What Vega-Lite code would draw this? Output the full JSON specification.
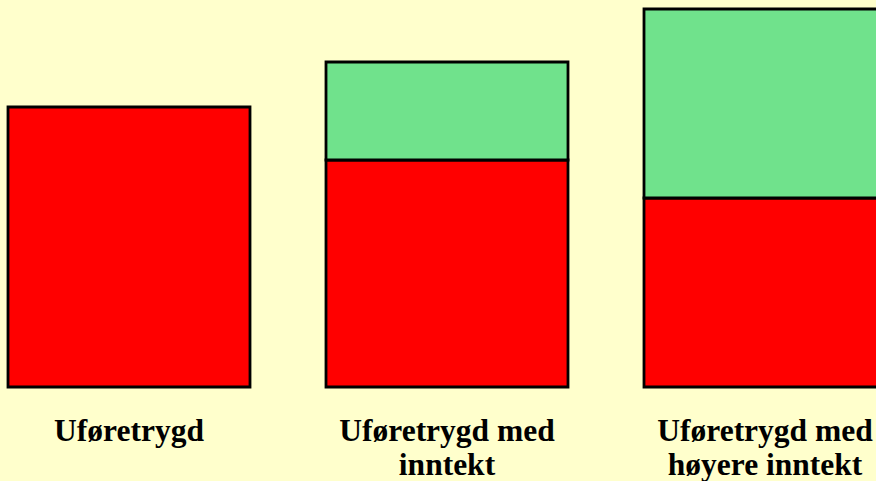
{
  "$schema": "https://vega.github.io/schema/vega-lite/v6.json",
  "width": 876,
  "height": 387,
  "padding": {"left": 0, "top": 0, "right": 0, "bottom": 94},
  "autosize": {"type": "none"},
  "background": "#FFFFCC",
  "config": {"view": {"stroke": null}},
  "data": {
    "values": [
      {"kategori": "Uføretrygd", "del": "Uføretrygd", "verdi": 280, "rekkefolge": 1},
      {"kategori": "Uføretrygd med\ninntekt", "del": "Uføretrygd", "verdi": 227, "rekkefolge": 1},
      {"kategori": "Uføretrygd med\ninntekt", "del": "Inntekt", "verdi": 98, "rekkefolge": 2},
      {"kategori": "Uføretrygd med\nhøyere inntekt", "del": "Uføretrygd", "verdi": 189, "rekkefolge": 1},
      {"kategori": "Uføretrygd med\nhøyere inntekt", "del": "Inntekt", "verdi": 189, "rekkefolge": 2}
    ]
  },
  "mark": {"type": "bar", "stroke": "#000000", "strokeWidth": 2.8},
  "encoding": {
    "x": {
      "field": "kategori",
      "type": "nominal",
      "sort": null,
      "scale": {"range": [8, 886], "paddingInner": 0.239, "paddingOuter": 0},
      "axis": {
        "title": null,
        "domain": false,
        "ticks": false,
        "labelAngle": 0,
        "labelExpr": "split(datum.label, '\\n')",
        "labelFont": "Liberation Serif",
        "labelFontWeight": "bold",
        "labelFontSize": 31.5,
        "labelColor": "#000000",
        "labelLineHeight": 34,
        "labelBaseline": "alphabetic",
        "labelPadding": 53,
        "labelLimit": 500,
        "labelOverlap": false,
        "labelBound": false,
        "labelFlush": false
      }
    },
    "y": {
      "field": "verdi",
      "type": "quantitative",
      "stack": "zero",
      "scale": {"domain": [0, 387], "nice": false},
      "axis": null
    },
    "color": {
      "field": "del",
      "type": "nominal",
      "scale": {"domain": ["Uføretrygd", "Inntekt"], "range": ["#FF0000", "#70E28C"]},
      "legend": null
    },
    "order": {"field": "rekkefolge", "type": "quantitative"}
  }
}
